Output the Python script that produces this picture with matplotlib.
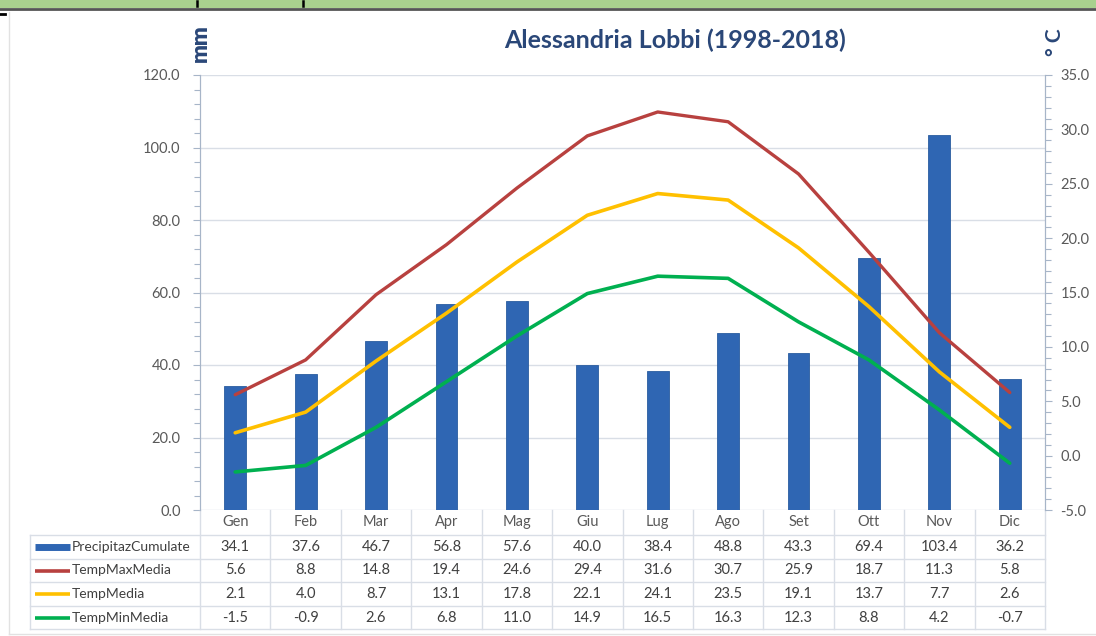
import matplotlib.pyplot as plt
from matplotlib.ticker import MultipleLocator, FormatStrFormatter
from matplotlib.patches import Rectangle
import matplotlib.transforms as mtransforms

months = ['Gen', 'Feb', 'Mar', 'Apr', 'Mag', 'Giu', 'Lug', 'Ago', 'Set', 'Ott', 'Nov', 'Dic']
precip = [34.1, 37.6, 46.7, 56.8, 57.6, 40.0, 38.4, 48.8, 43.3, 69.4, 103.4, 36.2]
tmax = [5.6, 8.8, 14.8, 19.4, 24.6, 29.4, 31.6, 30.7, 25.9, 18.7, 11.3, 5.8]
tmed = [2.1, 4.0, 8.7, 13.1, 17.8, 22.1, 24.1, 23.5, 19.1, 13.7, 7.7, 2.6]
tmin = [-1.5, -0.9, 2.6, 6.8, 11.0, 14.9, 16.5, 16.3, 12.3, 8.8, 4.2, -0.7]

series_names = ['PrecipitazCumulate', 'TempMaxMedia', 'TempMedia', 'TempMinMedia']
series_vals = [precip, tmax, tmed, tmin]

BLUE = '#2F66B3'
RED = '#B8413F'
YELLOW = '#FFC000'
GREEN = '#00B050'
NAVY = '#2A4778'
GRAY = '#595959'
GRID = '#D9DEE6'
FONT = 'Lato'

W, H = 1096, 636
fig = plt.figure(figsize=(W / 100, H / 100), dpi=100)
fig.patch.set_facecolor('white')

# screenshot frame: green band on top and light chart border
fig.patches.append(Rectangle((0, 1 - 8 / H), 1, 8 / H, transform=fig.transFigure,
                             facecolor='#A9D18E', edgecolor='none'))
fig.add_artist(plt.Line2D([0, 1], [1 - 8.5 / H] * 2, color='#555555', lw=2))
for xp in (197, 303):
    fig.add_artist(plt.Line2D([xp / W] * 2, [1 - 0.5 / H, 1 - 6 / H], color='black', lw=1.8))
fig.add_artist(plt.Line2D([0, 5 / W], [1 - 14 / H] * 2, color='black', lw=2))
fig.add_artist(plt.Line2D([9 / W] * 2, [2 / H, 1 - 12 / H], color='#E2E2E2', lw=1))
fig.add_artist(plt.Line2D([9 / W, 1], [2 / H] * 2, color='#E2E2E2', lw=1))

ax = fig.add_axes([200 / W, (H - 510) / H, 845 / W, 435 / H])
ax2 = ax.twinx()

x = list(range(len(months)))
ax.bar(x, precip, width=0.31, color=BLUE, edgecolor='#2A5C9F', linewidth=0.6, zorder=2)
ax.set_xlim(-0.5, 11.5)
ax.set_ylim(0, 120)
ax.yaxis.set_major_locator(MultipleLocator(20))
ax.yaxis.set_minor_locator(MultipleLocator(4))
ax.yaxis.set_major_formatter(FormatStrFormatter('%.1f'))
ax.grid(axis='y', color=GRID, lw=1, zorder=0)
ax.set_axisbelow(True)
ax.set_xticks([])

ax2.plot(x, tmax, color=RED, lw=2.4, solid_joinstyle='round', solid_capstyle='round', zorder=3)
ax2.plot(x, tmed, color=YELLOW, lw=2.6, solid_joinstyle='round', solid_capstyle='round', zorder=3)
ax2.plot(x, tmin, color=GREEN, lw=2.6, solid_joinstyle='round', solid_capstyle='round', zorder=3)
ax2.set_ylim(-5, 35)
ax2.yaxis.set_major_locator(MultipleLocator(5))
ax2.yaxis.set_minor_locator(MultipleLocator(1))
ax2.yaxis.set_major_formatter(FormatStrFormatter('%.1f'))

for a in (ax, ax2):
    for s in ('top', 'bottom'):
        a.spines[s].set_visible(False)
    a.spines['left'].set_color('#A7B5C8')
    a.spines['right'].set_color('#A7B5C8')
    a.tick_params(axis='y', which='major', length=5, width=0.8, color='#A7B5C8',
                  labelcolor=GRAY, labelsize=10.5)
    a.tick_params(axis='y', which='minor', length=4, width=0.8, color='#A7B5C8')
    for lab in a.get_yticklabels():
        lab.set_fontfamily(FONT)
ax.tick_params(axis='y', which='both', direction='out', pad=9)
ax2.tick_params(axis='y', which='both', direction='out', pad=6)

# titles
fig.text(675 / W, 1 - 40 / H, 'Alessandria Lobbi (1998-2018)', ha='center', va='center',
         fontsize=18, fontweight='bold', color=NAVY, family=FONT)
fig.text(200 / W, 1 - 43 / H, 'mm', rotation=90, ha='center', va='center',
         fontsize=16, fontweight='heavy', color=NAVY, family=FONT)
fig.text(1055 / W, 1 - 42 / H, '° C', rotation=90, ha='center', va='center',
         fontsize=15, fontweight='bold', color=NAVY, family=FONT)

# data table below the plot
def fy(ypix):
    return (510 - ypix) / 435

tr = mtransforms.blended_transform_factory(ax.transData, ax.transAxes)
row_lines = [535, 558.5, 582, 605.5, 629]
row_centers = [547, 570.5, 594, 617.5]
leg_left = -170 / 845

for yp in row_lines:
    ax.plot([leg_left, 1], [fy(yp)] * 2, transform=ax.transAxes, color=GRID, lw=1, clip_on=False)
for xb in [i - 0.5 for i in range(len(months) + 1)]:
    ax.plot([xb, xb], [fy(510), fy(629)], transform=tr, color=GRID, lw=1, clip_on=False)
ax.plot([leg_left, leg_left], [fy(535), fy(629)], transform=ax.transAxes, color=GRID, lw=1, clip_on=False)

for i, m in enumerate(months):
    ax.text(i, fy(522), m, transform=tr, ha='center', va='center', fontsize=10.5,
            color=GRAY, family=FONT)

swatch_colors = [BLUE, RED, YELLOW, GREEN]
for r, (name, vals, col) in enumerate(zip(series_names, series_vals, swatch_colors)):
    yc = fy(row_centers[r])
    sx0, sx1 = (35 - 200) / 845, (70 - 200) / 845
    ax.plot([sx0, sx1], [yc, yc], transform=ax.transAxes, color=col,
            lw=5 if r == 0 else 2.6, solid_capstyle='butt', clip_on=False)
    ax.text((72 - 200) / 845, yc, name, transform=ax.transAxes, ha='left', va='center',
            fontsize=10, color='#404040', family=FONT)
    for i, v in enumerate(vals):
        ax.text(i, yc, f'{v:.1f}', transform=tr, ha='center', va='center', fontsize=10.5,
                color='#404040', family=FONT)

fig.savefig('out.png', dpi=100)
